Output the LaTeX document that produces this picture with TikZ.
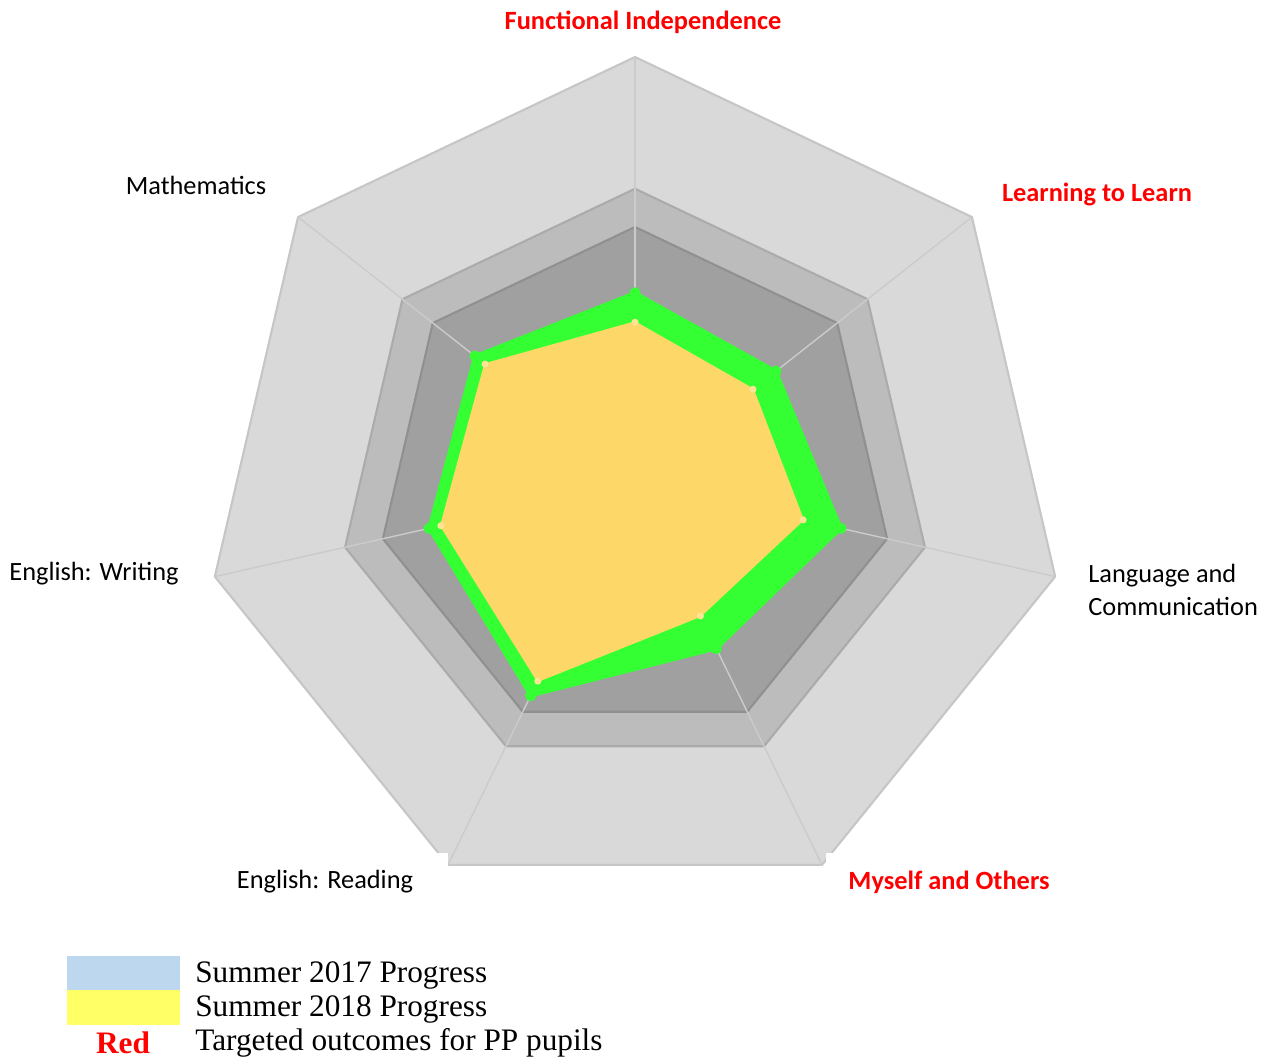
\documentclass[tikz,border=0pt]{standalone}
\usepackage{fontspec}
\setmainfont{Liberation Serif}
\newfontfamily\labelfont{Carlito}
\definecolor{outerband}{HTML}{D9D9D9}
\definecolor{middleband}{HTML}{BCBCBC}
\definecolor{innerband}{HTML}{A0A0A0}
\definecolor{outeredge}{HTML}{C6C6C6}
\definecolor{middleedge}{HTML}{ABABAB}
\definecolor{inneredge}{HTML}{909090}
\definecolor{spokegray}{HTML}{CBCBCB}
\definecolor{progressgreen}{HTML}{33FF33}
\definecolor{progressgold}{HTML}{FDD868}
\definecolor{key2017}{HTML}{BDD7EE}
\definecolor{key2018}{HTML}{FFFF66}
\definecolor{targetred}{HTML}{FF0000}
\tikzset{
  axislabel/.style={font=\labelfont\fontsize{15}{18.7}\selectfont,text=black},
  targetlabel/.style={font=\labelfont\bfseries\fontsize{15}{18.7}\selectfont,text=targetred},
  coverlabel/.style={fill=white,minimum width=4.92cm,minimum height=1.16cm},
  legendtext/.style={anchor=west,inner sep=0pt,font=\fontsize{17.8}{20}\selectfont},
  legendkey/.style={minimum width=2.26cm,minimum height=0.69cm,inner sep=0pt}
}
\begin{document}
\begin{tikzpicture}[x=0.02cm,y=-0.02cm]
  \useasboundingbox (0,0) rectangle (1270,1060);
  \coordinate (c) at (635,482);

  \foreach \k in {0,...,6} {
    \pgfmathsetmacro\ang{90-\k*360/7}
    \coordinate (o\k) at ({635+431*cos(\ang)},{482-425*sin(\ang)});
    \coordinate (m\k) at ({635+431*0.69*cos(\ang)},{482-425*0.69*sin(\ang)});
    \coordinate (n\k) at ({635+431*0.60*cos(\ang)},{482-425*0.60*sin(\ang)});
  }
  \foreach \k/\r in {0/0.445,1/0.418,2/0.49,3/0.435,4/0.558,5/0.49,6/0.475} {
    \pgfmathsetmacro\ang{90-\k*360/7}
    \coordinate (g\k) at ({635+431*\r*cos(\ang)},{482-425*\r*sin(\ang)});
  }
  \foreach \k/\r in {0/0.376,1/0.35,2/0.40,3/0.35,4/0.52,5/0.462,6/0.445} {
    \pgfmathsetmacro\ang{90-\k*360/7}
    \coordinate (y\k) at ({635+431*\r*cos(\ang)},{482-425*\r*sin(\ang)});
  }

  \filldraw[fill=outerband,draw=outeredge,line width=1.2pt,line join=round]
    (o0) \foreach \k in {1,...,6} {-- (o\k)} -- cycle;
  \filldraw[fill=middleband,draw=middleedge,line width=1.2pt,line join=round]
    (m0) \foreach \k in {1,...,6} {-- (m\k)} -- cycle;
  \filldraw[fill=innerband,draw=inneredge,line width=1.2pt,line join=round]
    (n0) \foreach \k in {1,...,6} {-- (n\k)} -- cycle;
  \foreach \k in {0,...,6}
    \draw[spokegray,line width=0.8pt] (c) -- (o\k);

  \filldraw[fill=progressgreen,draw=progressgreen,line width=2pt,line join=round]
    (g0) \foreach \k in {1,...,6} {-- (g\k)} -- cycle;
  \foreach \k in {0,...,6}
    \fill[progressgreen] (g\k) circle (3.2pt);
  \filldraw[fill=progressgold,draw=progressgold,line width=1pt,line join=round]
    (y0) \foreach \k in {1,...,6} {-- (y\k)} -- cycle;
  \foreach \k in {0,...,6}
    \fill[progressgold!70!white] (y\k) circle (2pt);

  \node[targetlabel] (fi) at (643,22) {Functional Independence};
  \node[targetlabel] (ll) at (1097,194) {Learning to Learn};
  \node[axislabel] (ma) at (196,185) {Mathematics};
  \node[axislabel] (ew) at (94,574) {English: Writing};
  \node[axislabel,anchor=west,align=left,inner sep=0pt] (lc) at (1088,590) {Language and\\Communication};
  \node[axislabel,coverlabel] (er) at (325,882) {English: Reading};
  \node[targetlabel,coverlabel] (mo) at (949,882) {Myself and Others};

  \node[legendkey,fill=key2017] (k17) at (123.5,973) {};
  \node[legendkey,fill=key2018] (k18) at (123.5,1007.5) {};
  \node[legendtext] (t17) at (195,975) {Summer 2017 Progress};
  \node[legendtext] (t18) at (195,1009) {Summer 2018 Progress};
  \node[font=\bfseries\fontsize{17.8}{20}\selectfont,text=targetred] (red) at (123,1043) {Red};
  \node[legendtext] (tpp) at (195,1043) {Targeted outcomes for PP pupils};
\end{tikzpicture}
\end{document}
